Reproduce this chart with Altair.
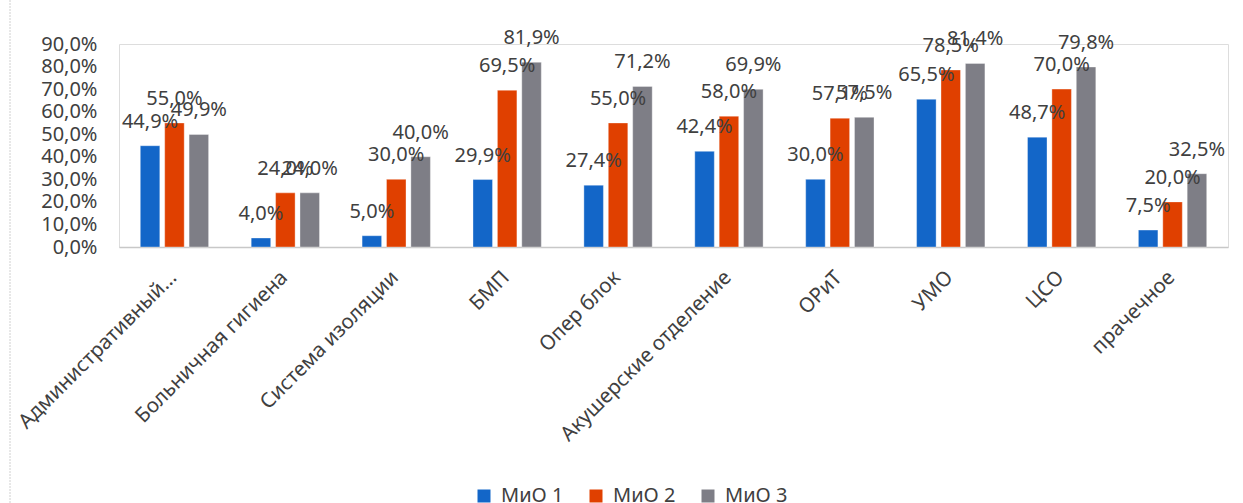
import altair as alt
import pandas as pd

# Departments (x-axis categories)
departments = [
    "Административный…",
    "Больничная гигиена",
    "Система изоляции",
    "БМП",
    "Опер блок",
    "Акушерские отделение",
    "ОРиТ",
    "УМО",
    "ЦСО",
    "прачечное",
]

series_names = ["МиО 1", "МиО 2", "МиО 3"]

# Percentages per series, in department order
mio_1 = [44.9, 4.0, 5.0, 29.9, 27.4, 42.4, 30.0, 65.5, 48.7, 7.5]
mio_2 = [55.0, 24.0, 30.0, 69.5, 55.0, 58.0, 57.1, 78.5, 70.0, 20.0]
mio_3 = [49.9, 24.0, 40.0, 81.9, 71.2, 69.9, 57.5, 81.4, 79.8, 32.5]

y_ticks = [0, 10, 20, 30, 40, 50, 60, 70, 80, 90]

colors = ["#1366C8", "#E04000", "#7E7E86"]
text_color = "#404040"
font = "Noto Sans"

rows = []
for name, values in zip(series_names, [mio_1, mio_2, mio_3]):
    for dep, v in zip(departments, values):
        rows.append({
            "dep": dep,
            "series": name,
            "value": v,
            "label": f"{v:.1f}".replace(".", ",") + "%",
        })
df = pd.DataFrame(rows)

x_enc = alt.X(
    "dep:N",
    sort=departments,
    title=None,
    scale=alt.Scale(paddingInner=0.34, paddingOuter=0.17),
    axis=alt.Axis(
        labelAngle=-45,
        labelFontSize=20.5,
        labelFont=font,
        labelColor=text_color,
        labelPadding=20,
        labelOffset=-8,
        labelLimit=400,
        ticks=False,
        domainColor="#C8C8C8",
        domainWidth=1.5,
        grid=False,
    ),
)
x_off = alt.XOffset(
    "series:N",
    sort=series_names,
    scale=alt.Scale(paddingInner=0.2, paddingOuter=0.1),
)
y_enc = alt.Y(
    "value:Q",
    title=None,
    scale=alt.Scale(domain=[0, 90], nice=False),
    axis=alt.Axis(
        values=y_ticks,
        labelExpr="replace(format(datum.value, '.1f'), '.', ',') + '%'",
        labelFontSize=20,
        labelFont=font,
        labelColor=text_color,
        labelPadding=22,
        tickSize=0,
        ticks=False,
        domain=False,
        grid=False,
    ),
)
color_enc = alt.Color(
    "series:N",
    sort=series_names,
    scale=alt.Scale(domain=series_names, range=colors),
    legend=alt.Legend(
        title=None,
        orient="none",
        direction="horizontal",
        legendX=355,
        legendY=442,
        padding=0,
        symbolType="square",
        symbolSize=169,
        symbolStrokeWidth=0,
        labelFontSize=20,
        labelFont=font,
        labelColor=text_color,
        labelOffset=7,
        columnPadding=22,
    ),
)

bars = alt.Chart(df).mark_bar(stroke="white", strokeOpacity=0.35, strokeWidth=1).encode(
    x=x_enc, xOffset=x_off, y=y_enc, color=color_enc
)

labels = alt.Chart(df).mark_text(
    baseline="alphabetic",
    align="center",
    dy=-18,
    fontSize=20,
    font=font,
    color=text_color,
).encode(x=x_enc, xOffset=x_off, y=y_enc, text="label:N")

# thin frame line on the left edge of the chart area
frame = alt.Chart(pd.DataFrame({"v": [0]})).mark_rule(
    color="#D0D0D0", strokeWidth=1, strokeDash=[2, 1]
).encode(x=alt.value(-109), y=alt.value(-44), y2=alt.value(459))

chart = (
    alt.layer(bars, labels, frame)
    .properties(
        width=1109,
        height=203,
        autosize=alt.AutoSizeParams(type="none"),
        padding={"left": 119, "top": 44, "right": 15, "bottom": 256},
    )
    .configure_view(stroke=None)
    .configure(background="white")
)

chart.save("out.html", embed_options={"renderer": "svg", "actions": False})
